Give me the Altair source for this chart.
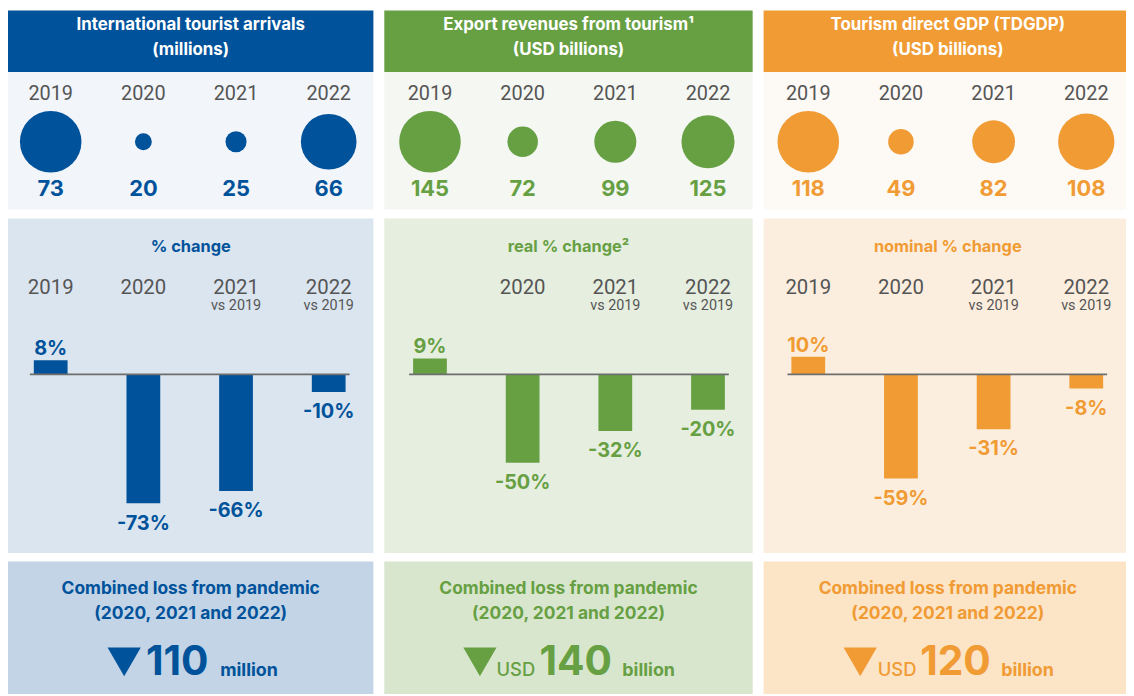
import altair as alt
import pandas as pd

# ---------------- data ----------------
years = ["2019", "2020", "2021", "2022"]

header_lines = [
    ["International tourist arrivals", "(millions)"],
    ["Export revenues from tourism\u00b9", "(USD billions)"],
    ["Tourism direct GDP (TDGDP)", "(USD billions)"],
]
arrivals = [73, 20, 25, 66]
export_revenues = [145, 72, 99, 125]
tdgdp = [118, 49, 82, 108]
level_values = [arrivals, export_revenues, tdgdp]

change_titles = ["% change", "real % change\u00b2", "nominal % change"]
arrivals_change = [8, -73, -66, -10]
export_change = [9, -50, -32, -20]
tdgdp_change = [10, -59, -31, -8]
change_values = [arrivals_change, export_change, tdgdp_change]
change_year_labels = [
    ["2019", "2020", "2021", "2022"],
    ["", "2020", "2021", "2022"],
    ["2019", "2020", "2021", "2022"],
]
change_sub_labels = ["", "", "vs 2019", "vs 2019"]

loss_title = ["Combined loss from pandemic", "(2020, 2021 and 2022)"]
loss_numbers = ["110", "140", "120"]
loss_prefix = ["", "USD", "USD"]
loss_suffix = ["million", "billion", "billion"]

# ---------------- style / layout ----------------
FONT_BOLD = "Inter"
FONT_YEAR = "Roboto"
GRAY = "#555555"
main_colors = ["#00529B", "#66A043", "#F09B33"]
bubble_bg = ["#F2F5FA", "#F5F7F2", "#FDF9F5"]
change_bg = ["#DBE5EF", "#E6EEE0", "#FCEEDE"]
loss_bg = ["#C2D4E6", "#D9E6CE", "#FCE4C7"]

col_widths = [368, 371, 365]
design_widths = [368, 371, 371]
first_centers = [43, 46, 45]
STEP = 93.33
HEADER_H = 62
BUBBLE_H = 138.5
CHANGE_H = 337
LOSS_H = 133.5
MAX_DIAM = 62
PX_PER_PCT = 1.78
ZERO_Y = 157

tri_x = [117, 96.3, 97.3]
prefix_x = [113, 113, 115]
number_x = [139, 156.3, 157.7]
suffix_x = [213.7, 239.7, 239.3]


def bg(color):
    return alt.ViewBackground(fill=color, strokeWidth=0)


def header_panel(i):
    df = pd.DataFrame({"t": ["\n".join(header_lines[i])]})
    return (
        alt.Chart(df)
        .mark_text(font=FONT_BOLD, fontSize=17, fontWeight="bold", color="white",
                   align="center", baseline="alphabetic", lineBreak="\n", lineHeight=25.5)
        .encode(x=alt.value(design_widths[i] / 2), y=alt.value(19.5), text="t:N")
        .properties(width=col_widths[i], height=HEADER_H, view=bg(main_colors[i]))
    )


def bubble_panel(i):
    df = pd.DataFrame({"year": years, "value": level_values[i]})
    c0 = first_centers[i]
    x = alt.X("year:N", axis=None,
              scale=alt.Scale(type="point", domain=years, range=[c0, c0 + 3 * STEP], padding=0))
    rows = alt.Scale(type="point", domain=["year", "bubble", "value"], range=[22.5, 118], padding=0)
    base = alt.Chart(df).encode(x=x)
    yr = base.mark_text(font=FONT_YEAR, fontSize=20, color=GRAY, baseline="middle").encode(
        y=alt.YDatum("year", type="nominal", scale=rows, axis=None), text="year:N")
    circ = base.mark_circle(color=main_colors[i], opacity=1).encode(
        y=alt.YDatum("bubble", type="nominal", scale=rows, axis=None),
        size=alt.Size("value:Q", legend=None,
                      scale=alt.Scale(type="pow", exponent=2, domain=[0, max(level_values[i])],
                                      range=[0, MAX_DIAM ** 2], nice=False)))
    val = base.mark_text(font=FONT_BOLD, fontSize=22, fontWeight="bold",
                         color=main_colors[i], baseline="middle").encode(
        y=alt.YDatum("value", type="nominal", scale=rows, axis=None), text="value:Q")
    return alt.layer(yr, circ, val).properties(
        width=col_widths[i], height=BUBBLE_H, view=bg(bubble_bg[i]))


def change_panel(i):
    df = pd.DataFrame({"year": years, "pct": change_values[i],
                       "ylab": change_year_labels[i], "sub": change_sub_labels})
    c0 = first_centers[i]
    half = 21
    xscale = alt.Scale(type="band", domain=years, range=[c0 - half, c0 + 3 * STEP + half],
                       paddingInner=0.55, paddingOuter=0)
    x = alt.X("year:N", axis=None, scale=xscale)
    top = ZERO_Y / PX_PER_PCT
    bottom = -(CHANGE_H - ZERO_Y) / PX_PER_PCT
    yscale = alt.Scale(domain=[bottom, top], nice=False, zero=False)
    y = alt.Y("pct:Q", axis=None, scale=yscale)
    base = alt.Chart(df).encode(x=x)
    bars = base.mark_bar(size=34, color=main_colors[i]).encode(y=y)
    zero = alt.Chart(pd.DataFrame({"pct": [0]})).mark_rule(color="#6E6E6E", strokeWidth=1.8).encode(
        y=y,
        x=alt.XDatum(years[0], type="nominal", bandPosition=0, scale=xscale, axis=None),
        x2=alt.X2Datum(years[-1], bandPosition=1),
    )
    ylab = base.mark_text(font=FONT_YEAR, fontSize=20.5, color=GRAY, baseline="alphabetic").encode(
        y=alt.value(75.7), text="ylab:N")
    sub = base.mark_text(font=FONT_YEAR, fontSize=14.5, color=GRAY, baseline="alphabetic").encode(
        y=alt.value(92.3), text="sub:N")
    lbl = base.transform_calculate(label="datum.pct + '%'")
    pos = lbl.transform_filter("datum.pct >= 0").mark_text(
        font=FONT_BOLD, fontSize=20, fontWeight="bold", color=main_colors[i],
        baseline="alphabetic", dy=-5).encode(y=y, text="label:N")
    neg = lbl.transform_filter("datum.pct < 0").mark_text(
        font=FONT_BOLD, fontSize=20, fontWeight="bold", color=main_colors[i],
        baseline="alphabetic", dy=26.5).encode(y=y, text="label:N")
    title = alt.Chart(pd.DataFrame({"t": [change_titles[i]]})).mark_text(
        font=FONT_BOLD, fontSize=16.5, fontWeight="bold", color=main_colors[i],
        baseline="alphabetic").encode(
        x=alt.value(design_widths[i] / 2), y=alt.value(34), text="t:N")
    return alt.layer(bars, zero, ylab, sub, pos, neg, title).properties(
        width=col_widths[i], height=CHANGE_H, view=bg(change_bg[i]))


def loss_panel(i):
    c = main_colors[i]
    one = pd.DataFrame({"t": ["\n".join(loss_title)], "num": [loss_numbers[i]],
                        "pre": [loss_prefix[i]], "suf": [loss_suffix[i]]})
    base = alt.Chart(one)
    title = base.mark_text(font=FONT_BOLD, fontSize=17.5, fontWeight="bold", color=c,
                           baseline="alphabetic", lineBreak="\n", lineHeight=25).encode(
        x=alt.value(design_widths[i] / 2), y=alt.value(32.5), text="t:N")
    tri = base.mark_point(shape="triangle-down", filled=True, size=1122, color=c, opacity=1).encode(
        x=alt.value(tri_x[i]), y=alt.value(101))
    pre = base.mark_text(font=FONT_BOLD, fontSize=18.5, fontWeight=500, color=c,
                         align="left", baseline="alphabetic").encode(
        x=alt.value(prefix_x[i]), y=alt.value(115.2), text="pre:N")
    num = base.mark_text(font=FONT_BOLD, fontSize=41, fontWeight="bold", color=c,
                         align="left", baseline="alphabetic").encode(
        x=alt.value(number_x[i]), y=alt.value(114.2), text="num:N")
    suf = base.mark_text(font=FONT_BOLD, fontSize=18, fontWeight="bold", color=c,
                         align="left", baseline="alphabetic").encode(
        x=alt.value(suffix_x[i]), y=alt.value(115.2), text="suf:N")
    return alt.layer(title, tri, pre, num, suf).properties(
        width=col_widths[i], height=LOSS_H, view=bg(loss_bg[i]))


columns = []
for i in range(3):
    top_block = alt.vconcat(header_panel(i), bubble_panel(i), spacing=0)
    columns.append(alt.vconcat(top_block, change_panel(i), loss_panel(i), spacing=8.5))

chart = (
    alt.hconcat(*columns, spacing=11)
    .resolve_scale(size="independent")
    .properties(padding=0, background="white")
    .configure_view(strokeWidth=0)
)

chart.save("out.html", embed_options={"renderer": "svg", "actions": False})
